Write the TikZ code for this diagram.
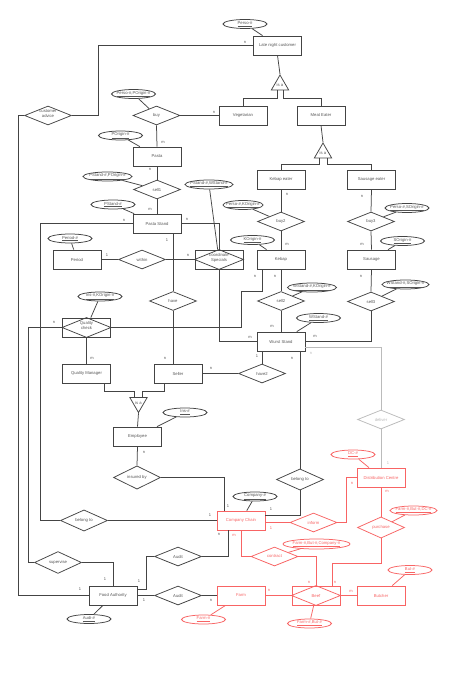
\documentclass[tikz,border=0pt]{standalone}
\usepackage{fontspec}
\setmainfont{Liberation Sans}
\usetikzlibrary{shapes.geometric,calc}
\definecolor{ln}{HTML}{444444}
\definecolor{tx}{HTML}{555555}
\definecolor{rd}{HTML}{F86464}
\definecolor{gy}{HTML}{BBBBBB}
\newcommand\myattr[1]{\makebox[0pt]{\underline{#1}}}
\newcommand\mytwo[2]{\makebox[0pt]{\smash{\begin{tabular}{@{}c@{}}#1\\#2\end{tabular}}}}
\begin{document}
\begin{tikzpicture}[x=1pt,y=-1pt,line width=0.75pt,
 every node/.style={font=\fontsize{4.2}{4.8}\selectfont,text=tx},
 ent/.style={draw=ln,rectangle,minimum width=48pt,minimum height=19pt,inner sep=0pt},
 rel/.style={draw=ln,diamond,minimum width=47pt,minimum height=19pt,inner sep=0pt},
 wrel/.style={draw=ln,rectangle,minimum width=48pt,minimum height=19pt,inner sep=0pt},
 attr/.style={draw=ln,ellipse,minimum width=44pt,minimum height=9pt,inner sep=0pt},
 isa/.style={draw=ln,regular polygon,regular polygon sides=3,minimum size=20pt,inner sep=0pt},
 card/.style={inner sep=0pt,font=\fontsize{4}{4}\selectfont},
 redc/.style={draw=rd,text=rd},
 greyc/.style={draw=gy,text=gy}]
\fill[white] (0,0) rectangle (454,687);
\useasboundingbox (0,0) rectangle (454,687);

% entities
\node[ent] (lnc) at (277.5,45.5) {Late night customer};
\node[ent] (veg) at (243,115.5) {Vegetarian};
\node[ent] (meat) at (321,115.5) {Meat Eater};
\node[ent] (pasta) at (157,156.5) {Pasta};
\node[ent] (pstand) at (157,223.5) {Pasta Stand};
\node[ent] (keater) at (281,179.5) {Kebap eater};
\node[ent] (seater) at (371.5,179.5) {Sausage eater};
\node[ent] (kebap) at (281,259.5) {Kebap};
\node[ent] (sausage) at (371.5,259.5) {Sausage};
\node[ent] (period) at (77,259.5) {Period};
\node[ent] (wurst) at (281,341.5) {Wurst Stand};
\node[ent] (qm) at (86.5,373.5) {Quality Manager};
\node[ent] (seller) at (178,373.5) {Seller};
\node[ent] (emp) at (137.5,436.5) {Employee};
\node[ent] (fa) at (113,595.5) {Food Authority};
\node[ent,redc] (cc) at (241,520.5) {Company Chain};
\node[ent,redc] (dc) at (381,477.5) {Distribution Centre};
\node[ent,redc] (farm) at (241,595.5) {Farm};
\node[ent,redc] (butcher) at (381,595.5) {Butcher};

% is-a triangles
\node[isa] (t1) at (280,85) {is a};
\node[isa] (t2) at (323,153) {is a};
\node[isa,shape border rotate=180] (t3) at (138.5,402.5) {is a};

% relationships
\node[rel] (advice) at (48,115.5) {\mytwo{customer}{advice}};
\node[rel] (buy) at (156.5,115.5) {buy};
\node[rel] (sell1) at (157,189.5) {sell1};
\node[rel] (within) at (142,259.5) {within};
\node[rel] (buy2) at (281,221.5) {buy2};
\node[rel] (sell2) at (281,301) {sell2};
\node[rel] (buy3) at (371,221.5) {buy3};
\node[rel] (sell3) at (371,301.5) {sell3};
\node[rel] (have) at (173,301) {have};
\node[rel] (have2) at (262,373.5) {have2};
\node[rel] (insured) at (137,477.5) {insured by};
\node[rel] (belong1) at (84,520.5) {belong to};
\node[rel] (belong2) at (300,479.5) {belong to};
\node[rel] (supervise) at (58,562.5) {supervise};
\node[rel] (audit1) at (178,556.5) {Audit};
\node[rel] (audit2) at (178,595.5) {Audit};
\node[rel,greyc] (deliver) at (381,419.5) {deliver};
\node[rel,redc] (inform) at (313.5,522.5) {inform};
\node[rel,redc] (purchase) at (381,527.5) {purchase};
\node[rel,redc] (contract) at (274.5,556.5) {contract};

% weak relationships
\node[wrel] (qc) at (86.5,327.5) {\mytwo{Quality}{check}};
\draw[ln] (qc.west) -- (qc.north) -- (qc.east) -- (qc.south) -- cycle;
\node[wrel] (coord) at (219,259.5) {\mytwo{coordinate}{Specials}};
\draw[ln] (coord.west) -- (coord.north) -- (coord.east) -- (coord.south) -- cycle;
\node[wrel,redc] (beef) at (316,595.5) {Beef};
\draw[rd] (beef.west) -- (beef.north) -- (beef.east) -- (beef.south) -- cycle;

% attributes
\node[attr] (a1) at (245,24) {\myattr{Perso-\#}};
\node[attr] (a2) at (133.5,94) {\myattr{Perso-\#,POrigin-\#}};
\node[attr] (a3) at (120.5,135.5) {\myattr{POrigin-\#}};
\node[attr,minimum width=49pt] (a4) at (107.5,176.5) {\myattr{PStand-\#,POrigin-\#}};
\node[attr] (a5) at (113,204.5) {\myattr{PStand-\#}};
\node[attr,minimum width=48pt] (a6) at (209,184.5) {\myattr{PStand-\#,WStand-\#}};
\node[attr,minimum width=40pt] (a7) at (243,205) {\myattr{Perso-\#,KOrigin-\#}};
\node[attr] (a8) at (252.5,240) {\myattr{KOrigin-\#}};
\node[attr] (a9) at (407,208) {\myattr{Perso-\#,SOrigin-\#}};
\node[attr] (a10) at (402.5,241) {\myattr{SOrigin-\#}};
\node[attr,minimum width=49pt] (a11) at (312,287.5) {\myattr{WStand-\#,KOrigin-\#}};
\node[attr,minimum width=47pt] (a12) at (405.5,284.5) {\myattr{WStand-\#,SOrigin-\#}};
\node[attr] (a13) at (318.5,318) {\myattr{WStand-\#}};
\node[attr] (a14) at (70,238.5) {\myattr{Period-\#}};
\node[attr] (a15) at (100,296.5) {\myattr{Ins-\#,KOrigin-\#}};
\node[attr] (a16) at (185,412.5) {\myattr{Ins-\#}};
\node[attr] (a17) at (255,496.5) {\myattr{Company-\#}};
\node[attr] (a18) at (89,619) {\myattr{Audi-\#}};
\node[attr,redc] (a19) at (353,454.5) {\myattr{DC-\#}};
\node[attr,redc,minimum width=47pt] (a20) at (413.5,510.5) {\myattr{Farm-\#,But-\#,DC-\#}};
\node[attr,redc,minimum width=67pt,minimum height=10pt] (a21) at (316.5,544) {\myattr{Farm-\#,But-\#,Company-\#}};
\node[attr,redc] (a22) at (203.5,619.5) {\myattr{Farm-\#}};
\node[attr,redc] (a23) at (309.5,623.5) {\myattr{Farm-\#,But-\#}};
\node[attr,redc] (a24) at (410,570) {\myattr{But-\#}};

% black connectors
\begin{scope}[ln]
\draw (a1) -- (lnc);
\draw (lnc.west) -| ([xshift=26.5pt]advice.east) -- (advice.east);
\draw (advice.west) -- ++(-5.5,0) |- (fa.west);
\draw (lnc.south) -- (t1.corner 1);
\draw ([xshift=-3pt]t1.side 2) -- ++(0,8) -| (veg.north);
\draw ([xshift=3pt]t1.side 2) -- ++(0,8) -| (meat.north);
\draw (meat.south) -- (t2.corner 1);
\draw ([xshift=-4pt]t2.side 2) -- ++(0,6) -| (keater.north);
\draw ([xshift=4pt]t2.side 2) -- ++(0,6) -| (seater.north);
\draw (buy.east) -- (veg.west);
\draw (a2) -- (buy);
\draw (buy.south) -- (pasta.north);
\draw (a3) -- (pasta);
\draw (pasta.south) -- (sell1.north);
\draw (a4) -- (sell1);
\draw (sell1.south) -- (pstand.north);
\draw (a5) -- (pstand);
\draw (pstand.west) -- ++(-92,0) |- (belong1.west);
\draw (belong1.east) -- (belong1.east -| cc.west);
\draw (pstand.east) -| (coord.north);
\draw (have.north |- pstand.south) -- (have.north);
\draw (within.east) -- (coord.west);
\draw (period.east) -- (within.west);
\draw (a14) -- (period);
\draw (a6) -- (coord);
\draw (coord.south) |- (wurst.west);
\draw (keater.south) -- (buy2.north);
\draw (a7) -- (buy2);
\draw (buy2.south) -- (kebap.north);
\draw (a8) -- (kebap);
\draw (kebap.south) -- (sell2.north);
\draw (a11) -- (sell2);
\draw (sell2.south) -- (wurst.north);
\draw (a13) -- (wurst);
\draw ([xshift=-19pt]kebap.south) -- ++(0,22) -- ++(-21,0) |- (qc.east);
\draw (seater.south) -- (buy3.north);
\draw (a9) -- (buy3);
\draw (buy3.south) -- (sausage.north);
\draw (a10) -- (sausage);
\draw (sausage.south) -- (sell3.north);
\draw (a12) -- (sell3);
\draw (sell3.south) |- (wurst.east);
\draw (a17) -- (cc);
\draw (belong2.north |- wurst.south) -- (belong2.north);
\draw (belong2.south) |- ([yshift=5.5pt]cc.east);
\draw (have2.north |- wurst.south) -- (have2.north);
\draw (seller.east) -- (have2.west);
\draw (have.south) -- (have.south |- seller.north);
\draw (a15) -- (qc);
\draw (qc.west) -- ++(-33.5,0) |- (supervise.west);
\draw (supervise.east) -| (fa.north);
\draw (qc.south) -- (qm.north);
\draw ([xshift=17.5pt]qm.south) -- ++(0,8) -| ([xshift=-4pt]t3.side 2);
\draw ([xshift=-14pt]seller.south) -- ++(0,8) -| ([xshift=4pt]t3.side 2);
\draw (t3.corner 1) -- (emp.north);
\draw (a16) -- (emp);
\draw (emp.south) -- (insured.north);
\draw (insured.east) -| ([xshift=-17pt]cc.north);
\draw ([yshift=6.5pt]fa.east) -- ++(9,0) |- (audit1.west);
\draw (audit1.east) -| ([xshift=-13pt]cc.south);
\draw (fa.east) -- (audit2.west);
\draw (a18) -- (fa);
\draw (audit2.east) -- (farm.west);
\end{scope}

% grey connectors
\begin{scope}[gy]
\draw ([yshift=-5.5pt]wurst.east) -| (deliver.north);
\draw (deliver.south) -- (dc.north);
\end{scope}

% red connectors
\begin{scope}[rd]
\draw (a19) -- (dc);
\draw (dc.west) -- ++(-10,0) |- (inform.east);
\draw (dc.south) -- (purchase.north);
\draw (a20) -- (purchase);
\draw (purchase.south) -- ++(0,25) -| ([xshift=16pt]beef.north);
\draw (cc.east |- inform.west) -- (inform.west);
\draw (a22) -- (farm);
\draw (farm.east) -- (beef.west);
\draw (beef.east) -- (butcher.west);
\draw (a23) -- (beef);
\draw (a24) -- (butcher);
\draw (cc.south) |- (contract.west);
\draw (a21) -- (contract);
\draw (contract.east) -| (beef.north);
\end{scope}

% cardinalities
\node[card] (c1) at (245,42) {n};
\node[card] (c2) at (80,589) {1};
\node[card] (c3) at (214,112) {n};
\node[card] (c4) at (163,142) {m};
\node[card] (c5) at (150,169) {n};
\node[card] (c6) at (150,209) {m};
\node[card] (c7) at (124,220) {n};
\node[card] (c8) at (210,515) {1};
\node[card] (c9) at (187,219) {n};
\node[card] (c10) at (167,240) {1};
\node[card] (c11) at (188,255) {n};
\node[card] (c12) at (107,255) {1};
\node[card] (c13) at (250,337) {m};
\node[card] (c14) at (287,194) {n};
\node[card] (c15) at (287,244) {m};
\node[card] (c16) at (255,276) {n};
\node[card] (c17) at (275,276) {n};
\node[card] (c18) at (272,326) {m};
\node[card] (c19) at (362,196) {n};
\node[card] (c20) at (362,244) {m};
\node[card] (c21) at (361,276) {n};
\node[card] (c22) at (315,336) {m};
\node[card,text=gy] (c23) at (311,353) {n};
\node[card,text=gy] (c24) at (388,463) {1};
\node[card,text=rd] (c25) at (352,483) {n};
\node[card,text=rd] (c26) at (387,491) {m};
\node[card,text=rd] (c27) at (335,582) {n};
\node[card,text=rd] (c28) at (271,528) {1};
\node[card] (c29) at (292,358) {n};
\node[card] (c30) at (271,509) {1};
\node[card] (c31) at (257,356) {1};
\node[card] (c32) at (211,368) {n};
\node[card] (c33) at (165,358) {n};
\node[card] (c34) at (54,322) {n};
\node[card] (c35) at (105,579) {1};
\node[card] (c36) at (92,358) {m};
\node[card] (c37) at (144,452) {n};
\node[card] (c38) at (228,506) {1};
\node[card] (c39) at (139,581) {1};
\node[card] (c40) at (219,534) {n};
\node[card] (c41) at (144,600) {1};
\node[card] (c42) at (211,600) {n};
\node[card,text=rd] (c43) at (269,590) {n};
\node[card,text=rd] (c44) at (351,591) {m};
\node[card,text=rd] (c45) at (234,535) {m};
\node[card,text=rd] (c46) at (309,582) {n};
\end{tikzpicture}
\end{document}
